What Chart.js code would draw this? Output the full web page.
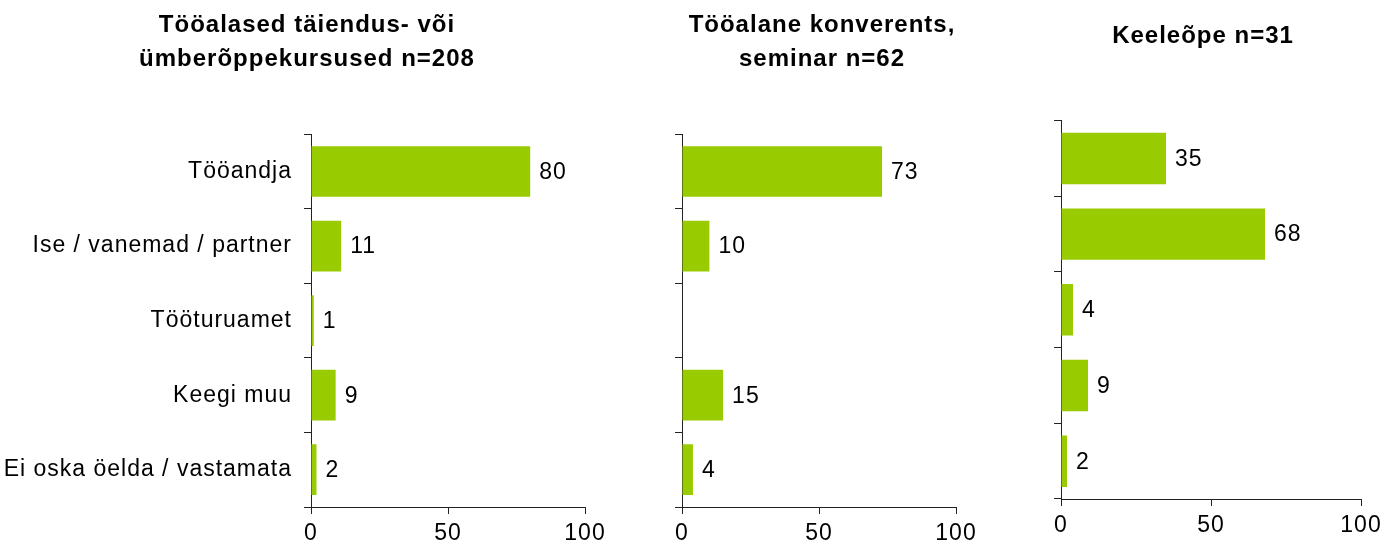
<!DOCTYPE html>
<html>
<head>
<meta charset="utf-8">
<script src="https://cdn.jsdelivr.net/npm/chart.js@4.4.1/dist/chart.umd.min.js"></script>
<style>
  body { margin: 0; background: #fff; width: 1385px; height: 552px; position: relative; overflow: hidden; }
  canvas { position: absolute; top: 0; }
</style>
</head>
<body>
<canvas id="chart1" width="614" height="552" style="left:0px"></canvas>
<canvas id="chart2" width="364" height="552" style="left:640px"></canvas>
<canvas id="chart3" width="364" height="552" style="left:1021px"></canvas>
<script>
const categories = ["Tööandja", "Ise / vanemad / partner", "Tööturuamet", "Keegi muu", "Ei oska öelda / vastamata"];
const title1 = ["Tööalased täiendus- või", "ümberõppekursused n=208"];
const title2 = ["Tööalane konverents,", "seminar n=62"];
const title3 = "Keeleõpe n=31";
const values1 = [80, 11, 1, 9, 2];
const values2 = [73, 10, null, 15, 4];
const values3 = [35, 68, 4, 9, 2];
const xTicks = [0, 50, 100];

const FONT = "'Liberation Sans', Arial, sans-serif";
const AXIS = "#222";
Chart.defaults.color = "#000";
Chart.defaults.font.family = FONT;

// wider glyph spacing like the original export
const spacing = {
  id: "spacing",
  beforeUpdate(c) { c.ctx.letterSpacing = "1px"; },
  beforeDraw(c) { c.ctx.letterSpacing = "1px"; }
};

// value labels right of each bar
const valueLabels = {
  id: "valueLabels",
  afterDatasetsDraw(chart) {
    const ctx = chart.ctx;
    const data = chart.data.datasets[0].data;
    ctx.save();
    ctx.font = "23px " + FONT;
    ctx.fillStyle = "#000";
    ctx.textAlign = "left";
    ctx.textBaseline = "middle";
    chart.getDatasetMeta(0).data.forEach((bar, i) => {
      if (data[i] == null) return;
      ctx.fillText(String(data[i]), bar.x + 9, bar.y + 1);
    });
    ctx.restore();
  }
};

function makeChart(id, values, title, o) {
  return new Chart(document.getElementById(id), {
    type: "bar",
    data: {
      labels: categories,
      datasets: [{
        data: values,
        backgroundColor: "#99cc00",
        barPercentage: 0.68,
        categoryPercentage: 1
      }]
    },
    options: {
      indexAxis: "y",
      responsive: false,
      animation: false,
      layout: { padding: 0 },
      plugins: {
        legend: { display: false },
        tooltip: { enabled: false },
        title: {
          display: true,
          text: title,
          color: "#000",
          font: { size: 24, weight: "bold", lineHeight: 1.4 },
          padding: { top: o.titleTop, bottom: o.titleBottom }
        }
      },
      scales: {
        y: {
          offset: true,
          afterFit: (s) => { s.width = o.yWidth; },
          grid: { offset: true, drawOnChartArea: false, drawTicks: true, tickLength: 7, color: AXIS },
          border: { display: true, color: AXIS, width: 1 },
          ticks: { display: o.showLabels, padding: 12, color: "#000", font: { size: 23 } }
        },
        x: {
          min: 0,
          max: 100,
          // fixed height and right room, so the title stays centred on the canvas
          afterFit: (s) => { s.height = o.xHeight; s.paddingRight = o.right; s.paddingLeft = 0; },
          afterBuildTicks: (s) => { s.ticks = xTicks.map(v => ({ value: v })); },
          grid: { drawOnChartArea: false, drawTicks: true, tickLength: 7, color: AXIS },
          border: { display: true, color: AXIS, width: 1 },
          ticks: { padding: 6, color: "#000", font: { size: 23 }, maxRotation: 0 }
        }
      }
    },
    plugins: [spacing, valueLabels]
  });
}

makeChart("chart1", values1, title1, { yWidth: 311, right: 29, titleTop: 9, titleBottom: 58, xHeight: 45, showLabels: true });
makeChart("chart2", values2, title2, { yWidth: 42, right: 48, titleTop: 9, titleBottom: 58, xHeight: 45, showLabels: false });
makeChart("chart3", values3, title3, { yWidth: 40, right: 24, titleTop: 20, titleBottom: 67, xHeight: 53, showLabels: false });
</script>
</body>
</html>
